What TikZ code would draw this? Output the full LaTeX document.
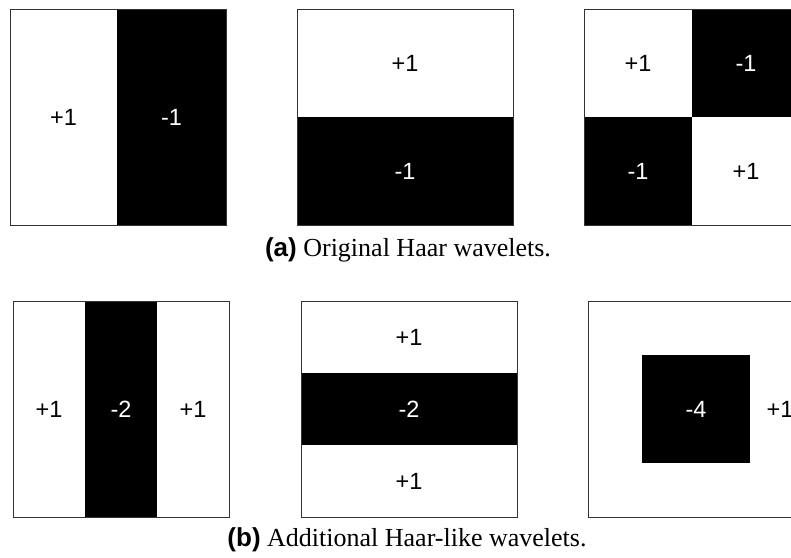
\documentclass[tikz,border=0pt]{standalone}
\usepackage{fontspec}
\setmainfont{Liberation Serif}
\setsansfont{Liberation Sans}
\usetikzlibrary{positioning}

\begin{document}
\begin{tikzpicture}[
    x=1pt, y=-1pt,
    frame/.style={draw=black!80, line width=0.8pt},
    neg/.style={fill=black},
    poslabel/.style={font=\sffamily\fontsize{23.5}{24}\selectfont, text=black, inner sep=0pt},
    neglabel/.style={poslabel, text=white},
    caption/.style={font=\fontsize{26}{28}\selectfont, inner sep=0pt}
]
    \clip (0,0) rectangle (791,557);
    \fill[white] (0,0) rectangle (791,557);

    % (a) Original Haar wavelets
    % vertical edge
    \fill[neg] (117,9) rectangle (226,225);
    \draw[frame] (10,9) rectangle (226,225);
    \node[poslabel] (a1p) at (63.5,117) {+1};
    \node[neglabel] (a1n) at (171.5,117) {-1};

    % horizontal edge
    \fill[neg] (297,117) rectangle (513,225);
    \draw[frame] (297,9) rectangle (513,225);
    \node[poslabel] (a2p) at (405,63) {+1};
    \node[neglabel] (a2n) at (405,171) {-1};

    % diagonal
    \fill[neg] (692,9) rectangle (800,117);
    \fill[neg] (584,117) rectangle (692,225);
    \draw[frame] (584,9) rectangle (800,225);
    \node[poslabel] (a3p1) at (638,63) {+1};
    \node[neglabel] (a3n1) at (746,63) {-1};
    \node[neglabel] (a3n2) at (638,171) {-1};
    \node[poslabel] (a3p2) at (746,171) {+1};

    \node[caption] (capa) at (408,250) {\textsf{\bfseries (a)} Original Haar wavelets.};

    % (b) Additional Haar-like wavelets
    % vertical line
    \fill[neg] (85,301) rectangle (157,517);
    \draw[frame] (13,301) rectangle (229,517);
    \node[poslabel] (b1p1) at (49,409) {+1};
    \node[neglabel] (b1n) at (121,409) {-2};
    \node[poslabel] (b1p2) at (193,409) {+1};

    % horizontal line
    \fill[neg] (301,373) rectangle (517,445);
    \draw[frame] (301,301) rectangle (517,517);
    \node[poslabel] (b2p1) at (409,337) {+1};
    \node[neglabel] (b2n) at (409,409) {-2};
    \node[poslabel] (b2p2) at (409,481) {+1};

    % center surround
    \fill[neg] (642,355) rectangle (750,463);
    \draw[frame] (588,301) rectangle (804,517);
    \node[neglabel] (b3n) at (696,409) {-4};
    \node[poslabel] (b3p) at (780,409) {+1};

    \node[caption] (capb) at (407,540) {\textsf{\bfseries (b)} Additional Haar-like wavelets.};
\end{tikzpicture}
\end{document}
